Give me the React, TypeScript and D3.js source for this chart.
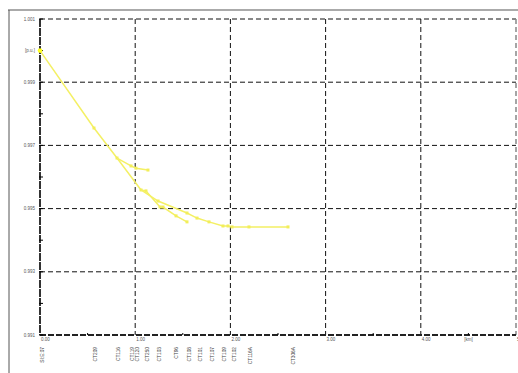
import React, { useEffect, useRef } from "react";
import * as d3 from "d3";

// distances [km] and voltages [p.u.] along each feeder path
const trunkKm = [0, 0.567, 0.809, 1.061, 1.113];
const trunkPu = [1.0, 0.99755, 0.9966, 0.99559, 0.99556];

const branchAKm = [0.809, 0.956, 1.008, 1.134];
const branchAPu = [0.9966, 0.99635, 0.99628, 0.99622];

const branchBKm = [1.061, 1.24, 1.544, 1.649, 1.775, 1.922, 1.975, 2.017, 2.195, 2.605];
const branchBPu = [0.99559, 0.99524, 0.99486, 0.9947, 0.99458, 0.99445, 0.99445, 0.99442, 0.99442, 0.99442];

const branchCKm = [1.113, 1.261, 1.292, 1.429, 1.544];
const branchCPu = [0.99556, 0.99505, 0.99505, 0.99477, 0.99458];

const nodeNames = ["SI:E:07", "CT209", "CT116", "CT119", "CT120", "CT250", "CT103", "CT96", "CT108", "CT101", "CT107", "CT109", "CT102", "CT116A", "CT306A"];
const nodeKm = [0, 0.556, 0.798, 0.945, 0.998, 1.103, 1.229, 1.408, 1.544, 1.659, 1.785, 1.911, 2.017, 2.185, 2.637];

const xTicks = [0, 1, 2, 3, 4, 5];
const xTickLabels = ["0.00", "1.00", "2.00", "3.00", "4.00", "5.00"];
const xMinor = [0.5, 1.5, 2.5, 3.5, 4.5];
const yTicks = [1.001, 0.999, 0.997, 0.995, 0.993, 0.991];
const yMinor = [1.0, 0.998, 0.996, 0.994, 0.992];

const App = () => {
  const svgRef = useRef(null);

  useEffect(() => {
    const width = 518;
    const height = 373;
    const margin = { top: 19, bottom: 38, left: 40, right: 2 };

    const svg = d3.select(svgRef.current);
    svg.selectAll("*").remove();

    const x = d3.scaleLinear().domain([0, 5]).range([margin.left, width - margin.right]);
    const y = d3.scaleLinear().domain([0.991, 1.001]).range([height - margin.bottom, margin.top]);
    const font = "'Liberation Sans', Arial, sans-serif";

    // outer frame
    svg.append("line").attr("x1", 8).attr("x2", width).attr("y1", 10).attr("y2", 10)
      .attr("stroke", "#aaa").attr("stroke-width", 2);
    svg.append("line").attr("x1", 9).attr("x2", 9).attr("y1", 10).attr("y2", height)
      .attr("stroke", "#555").attr("stroke-width", 1);

    // grid
    const grid = svg.append("g").attr("stroke", "#111").attr("stroke-dasharray", "5,3");
    grid.selectAll("line.v").data(xTicks.slice(1, 5)).enter().append("line")
      .attr("x1", d => x(d)).attr("x2", d => x(d))
      .attr("y1", y(1.001)).attr("y2", y(0.991));
    grid.selectAll("line.h").data(yTicks.slice(1, 5)).enter().append("line")
      .attr("x1", x(0)).attr("x2", x(5))
      .attr("y1", d => y(d)).attr("y2", d => y(d));
    grid.append("line").attr("x1", x(0)).attr("x2", x(5)).attr("y1", y(1.001)).attr("y2", y(1.001));
    grid.append("line").attr("x1", x(5)).attr("x2", x(5)).attr("y1", y(1.001)).attr("y2", y(0.991))
      .attr("stroke", "#888").attr("stroke-width", 1.5);

    // axes
    svg.append("line").attr("x1", x(0)).attr("x2", x(0)).attr("y1", y(1.001)).attr("y2", y(0.991))
      .attr("stroke", "#000").attr("stroke-width", 1.6).attr("stroke-dasharray", "8,1");
    svg.append("line").attr("x1", x(0)).attr("x2", x(5)).attr("y1", y(0.991)).attr("y2", y(0.991))
      .attr("stroke", "#222").attr("stroke-width", 2).attr("stroke-dasharray", "6,2");

    // ticks
    svg.append("g").selectAll("line").data(yTicks.concat(yMinor)).enter().append("line")
      .attr("x1", x(0) - 1).attr("x2", x(0) + 3).attr("y1", d => y(d)).attr("y2", d => y(d))
      .attr("stroke", "#000");
    svg.append("g").selectAll("line").data(xMinor).enter().append("line")
      .attr("x1", d => x(d)).attr("x2", d => x(d)).attr("y1", y(0.991) - 2).attr("y2", y(0.991))
      .attr("stroke", "#000");

    // tick labels
    svg.append("g").selectAll("text").data(yTicks).enter().append("text")
      .attr("x", x(0) - 5).attr("y", d => y(d) + 1.5).attr("text-anchor", "end")
      .attr("font-family", font).attr("font-size", 4.5).attr("fill", "#555")
      .text(d => d.toFixed(3));
    svg.append("text").attr("x", x(0) - 5).attr("y", y(1.0) + 1.5).attr("text-anchor", "end")
      .attr("font-family", font).attr("font-size", 4.5).attr("fill", "#555").text("[p.u.]");
    svg.append("g").selectAll("text").data(xTicks).enter().append("text")
      .attr("x", d => x(d) + 1).attr("y", y(0.991) + 6)
      .attr("font-family", font).attr("font-size", 4.5).attr("fill", "#555")
      .text((d, i) => xTickLabels[i]);
    svg.append("text").attr("x", x(4.5)).attr("y", y(0.991) + 6).attr("text-anchor", "middle")
      .attr("font-family", font).attr("font-size", 4.5).attr("fill", "#555").text("[km]");

    // node names
    svg.append("g").selectAll("text").data(nodeKm).enter().append("text")
      .attr("transform", d => `translate(${x(d) + 4},${y(0.991) + 12}) rotate(-90)`)
      .attr("text-anchor", "end")
      .attr("font-family", font).attr("font-size", 4.8).attr("fill", "#444")
      .text((d, i) => nodeNames[i]);

    // voltage profile
    const series = [
      [trunkKm, trunkPu],
      [branchAKm, branchAPu],
      [branchBKm, branchBPu],
      [branchCKm, branchCPu],
    ];
    const line = d3.line().x(d => x(d[0])).y(d => y(d[1]));
    series.forEach(([km, pu]) => {
      const pts = km.map((k, i) => [k, pu[i]]);
      svg.append("path").datum(pts).attr("d", line)
        .attr("fill", "none").attr("stroke", "#f4f064").attr("stroke-width", 1.5);
      svg.append("g").selectAll("rect").data(pts.slice(1)).enter().append("rect")
        .attr("x", d => x(d[0]) - 1.5).attr("y", d => y(d[1]) - 1.5)
        .attr("width", 3).attr("height", 3).attr("fill", "#f2ee5a");
    });
    svg.append("circle").attr("cx", x(trunkKm[0])).attr("cy", y(trunkPu[0])).attr("r", 2.3)
      .attr("fill", "#ffff20");
  }, []);

  return (
    <svg ref={svgRef} width={518} height={373}
      style={{ position: "absolute", left: 0, top: 0, background: "#fff" }} />
  );
};

export default App;
